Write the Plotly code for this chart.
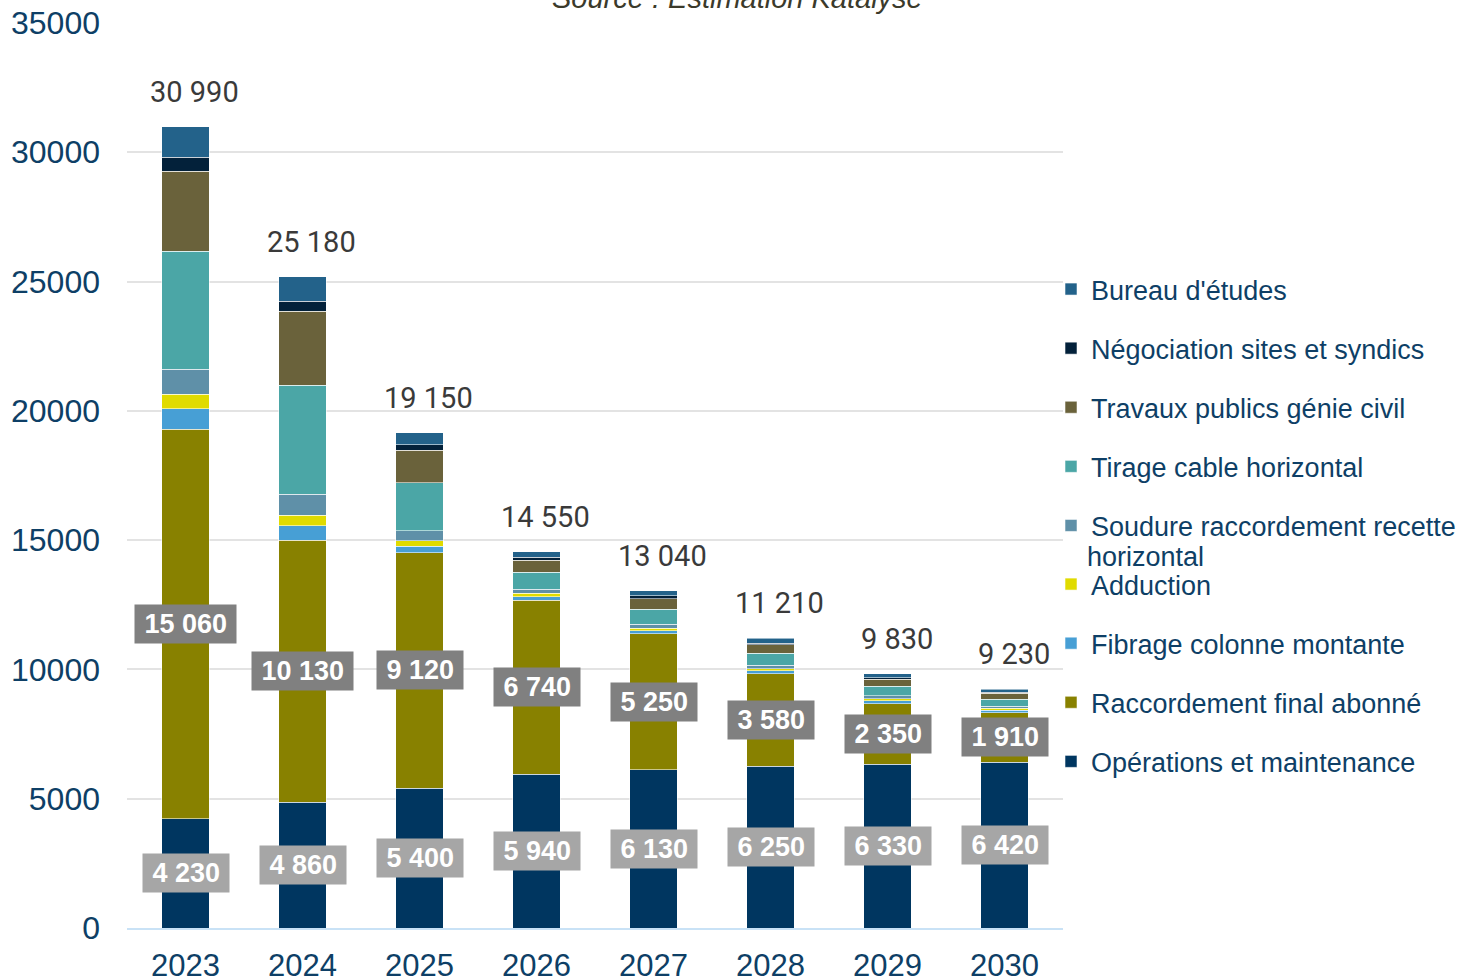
import plotly.graph_objects as go

years = ["2023", "2024", "2025", "2026", "2027", "2028", "2029", "2030"]

operations = [4230, 4860, 5400, 5940, 6130, 6250, 6330, 6420]
raccordement = [15060, 10130, 9120, 6740, 5250, 3580, 2350, 1910]
fibrage = [800, 560, 250, 130, 115, 110, 100, 95]
adduction = [560, 420, 205, 130, 105, 90, 90, 80]
soudure = [950, 810, 390, 155, 155, 140, 105, 70]
tirage = [4580, 4220, 1855, 660, 580, 450, 375, 280]
travaux = [3090, 2850, 1265, 475, 400, 325, 270, 225]
negociation = [530, 380, 205, 105, 115, 65, 50, 45]
bureau = [1190, 950, 460, 215, 190, 200, 160, 105]

series = [
    ("Opérations et maintenance", operations, "#003660", "legend2"),
    ("Raccordement final abonné", raccordement, "#888100", "legend2"),
    ("Fibrage colonne montante", fibrage, "#479FD5", "legend2"),
    ("Adduction", adduction, "#E0DB00", "legend2"),
    ("Soudure raccordement recette", soudure, "#5F90A8", "legend"),
    ("Tirage cable horizontal", tirage, "#4BA6A6", "legend"),
    ("Travaux publics génie civil", travaux, "#6A623B", "legend"),
    ("Négociation sites et syndics", negociation, "#03213A", "legend"),
    ("Bureau d'études", bureau, "#23628A", "legend"),
]

fig = go.Figure()
for i, (name, vals, color, lg) in enumerate(series):
    fig.add_trace(go.Bar(
        x=years, y=vals, name=name, legendgroup=f"g{i}", legend=lg,
        legendrank=100 - i,
        marker=dict(color=color, line=dict(color="rgba(255,255,255,0.55)", width=1)),
    ))

def fmt(v):
    return f"{v:,}".replace(",", " ")

totals = [sum(s[1][k] for s in series) for k in range(len(years))]

axis_color = "#0E3F66"
label_font = dict(family="Liberation Sans, Arial", size=27, color="white", weight="bold")
pad = "&#8201;"
annotations = []
for k in range(len(years)):
    annotations.append(dict(
        x=k, y=totals[k], text=fmt(totals[k]), showarrow=False,
        yanchor="middle", yshift=35, xshift=9,
        font=dict(family="Roboto", size=29, color="#3A3A3A"),
    ))
    annotations.append(dict(
        x=k, y=operations[k] + raccordement[k] / 2, text=pad + fmt(raccordement[k]) + pad,
        showarrow=False, bgcolor="#808080", borderpad=4, font=label_font,
    ))
    annotations.append(dict(
        x=k, y=operations[k] / 2, text=pad + fmt(operations[k]) + pad,
        showarrow=False, bgcolor="#A6A6A6", borderpad=4, font=label_font,
    ))

annotations.append(dict(
    xref="paper", yref="paper", x=0.652, y=1.0, yshift=25, xanchor="center", yanchor="middle",
    text="Source : Estimation Katalyse", showarrow=False,
    font=dict(family="Liberation Sans, Arial", size=29, color="#3B3A2B", style="italic"),
))
# wrapped continuation of the "Soudure raccordement recette" legend entry
annotations.append(dict(
    xref="paper", yref="paper", x=(1085 - 127) / 936, y=(928 - 557) / 905,
    xanchor="left", yanchor="middle", text="horizontal", showarrow=False,
    font=dict(family="Liberation Sans, Arial", size=27, color=axis_color),
))

legend_font = dict(family="Liberation Sans, Arial", size=27, color=axis_color)

fig.update_layout(
    width=1474, height=979,
    margin=dict(l=127, r=411, t=23, b=51),
    plot_bgcolor="white", paper_bgcolor="white",
    barmode="stack", bargap=0.595,
    annotations=annotations,
    xaxis=dict(
        type="category", range=[-0.5, 7.5], automargin=False,
        showgrid=False, showline=True, linecolor="#C9E2F6", linewidth=2,
        tickfont=dict(family="Liberation Sans, Arial", size=31, color=axis_color),
        ticks="", ticklabelstandoff=9,
    ),
    yaxis=dict(
        range=[0, 35000], dtick=5000, showgrid=True, gridcolor="#E3E3E3", gridwidth=2,
        zeroline=False, showline=False, tickformat="d", automargin=False,
        tickfont=dict(family="Liberation Sans, Arial", size=32, color=axis_color),
        ticks="", ticklabelstandoff=26,
    ),
    legend=dict(
        x=0.9872, xref="paper", xanchor="left", y=0.7326, yanchor="top",
        traceorder="grouped", tracegroupgap=21, valign="top",
        font=legend_font, bgcolor="rgba(0,0,0,0)",
    ),
    legend2=dict(
        x=0.9872, xref="paper", xanchor="left", y=0.4066, yanchor="top",
        traceorder="grouped", tracegroupgap=21, valign="top",
        font=legend_font, bgcolor="rgba(0,0,0,0)",
    ),
    showlegend=True,
)

fig.write_html("out.html", config={"displayModeBar": False},
               post_script="document.body.style.margin='0';")
